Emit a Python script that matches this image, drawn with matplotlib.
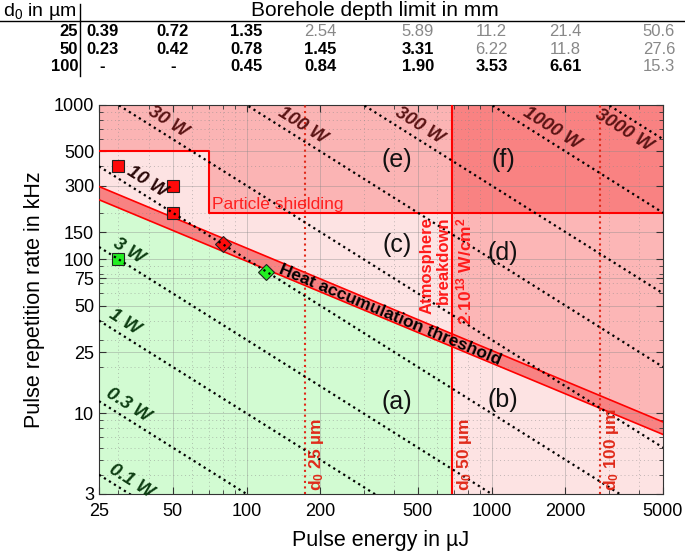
import numpy as np
import matplotlib
matplotlib.use("Agg")
import matplotlib.pyplot as plt
from matplotlib import transforms
from matplotlib.ticker import FixedLocator, FixedFormatter, LogLocator, NullFormatter

plt.rcParams['font.family'] = ['Liberation Sans', 'DejaVu Sans']
plt.rcParams['mathtext.default'] = 'regular'

# borehole depth table (mm) for d0 = 25, 50, 100 µm
table_energy = [25, 50, 100, 200, 500, 1000, 2000, 5000]
table_d0 = ['25', '50', '100']
depth_25 = ['0.39', '0.72', '1.35', '2.54', '5.89', '11.2', '21.4', '50.6']
depth_50 = ['0.23', '0.42', '0.78', '1.45', '3.31', '6.22', '11.8', '27.6']
depth_100 = ['-', '-', '0.45', '0.84', '1.90', '3.53', '6.61', '15.3']

# process limits
d0_energy = [173, 692, 2770]          # pulse energy where d0 = 25/50/100 µm
breakdown_energy = 692                # 2e13 W/cm^2
shield_E = [25, 70, 70, 5000]
shield_f = [500, 500, 200, 200]
thr_E = [25, 5000]
thr_upper = [296, 8.8]
thr_lower = [243, 7.3]

# iso-power lines in W
power_levels = [0.1, 0.3, 1, 3, 10, 30, 100, 300, 1000, 3000]
power_label_E = [32, 31, 30, 31, 37, 45, 159, 479, 1653, 3700]

# experiments
red_sq_E = [30, 50, 50]
red_sq_f = [400, 300, 200]
red_dia_E = [80]
red_dia_f = [125]
green_sq_E = [30]
green_sq_f = [100]
green_dia_E = [120]
green_dia_f = [83]

xticks = [25, 50, 100, 200, 500, 1000, 2000, 5000]
yticks = [3, 10, 25, 50, 75, 100, 150, 300, 500, 1000]

xmin, xmax, ymin, ymax = 25, 5000, 3, 1000


def on_line(E, ys):
    return 10 ** np.interp(np.log10(E), np.log10(thr_E), np.log10(ys))


fig = plt.figure(figsize=(6.85, 5.54), dpi=100)
ax = fig.add_axes([99 / 685, 1 - 494 / 554, 564 / 685, 389 / 554])
ax.set_xscale('log')
ax.set_yscale('log')
ax.set_xlim(xmin, xmax)
ax.set_ylim(ymin, ymax)
ax.set_facecolor('#fde3e3')

# regions
ax.fill([xmin, breakdown_energy, breakdown_energy, xmin],
        [on_line(xmin, thr_lower), on_line(breakdown_energy, thr_lower), ymin, ymin],
        color='#d2fbd2', lw=0, zorder=0.5)
ax.fill([breakdown_energy, xmax, xmax, breakdown_energy],
        [on_line(breakdown_energy, thr_upper), on_line(xmax, thr_upper), 200, 200],
        color='#fcb6b6', lw=0, zorder=0.5)
ax.fill(shield_E + [xmax, xmin], shield_f + [ymax, ymax],
        color='#fbb4b4', lw=0, zorder=0.5)
ax.fill([breakdown_energy, xmax, xmax, breakdown_energy], [200, 200, ymax, ymax],
        color='#f98282', lw=0, zorder=0.6)

# heat accumulation band
ax.fill([xmin, xmax, xmax, xmin],
        [thr_lower[0], thr_lower[1], thr_upper[1], thr_upper[0]],
        color='#f88282', lw=0, zorder=0.7)
ax.plot(thr_E, thr_upper, color='red', lw=1.2, zorder=3)
ax.plot(thr_E, thr_lower, color='red', lw=1.2, zorder=3)

# limits
ax.plot(shield_E, shield_f, color='red', lw=1.5, zorder=3)
ax.axvline(breakdown_energy, color='red', lw=1.5, zorder=3)
for e in [d0_energy[0], d0_energy[2]]:
    ax.axvline(e, color='#e02a1a', lw=1.5, ls=':', zorder=3)

# grid
ax.xaxis.set_major_locator(FixedLocator(xticks))
ax.xaxis.set_major_formatter(FixedFormatter([str(t) for t in xticks]))
ax.yaxis.set_major_locator(FixedLocator(yticks))
ax.yaxis.set_major_formatter(FixedFormatter([str(t) for t in yticks]))
ax.xaxis.set_minor_locator(LogLocator(base=10, subs=np.arange(1, 10)))
ax.yaxis.set_minor_locator(LogLocator(base=10, subs=np.arange(1, 10)))
ax.xaxis.set_minor_formatter(NullFormatter())
ax.yaxis.set_minor_formatter(NullFormatter())
ax.grid(which='major', color='#888888', lw=0.6, alpha=0.45)
ax.grid(which='minor', color='#888888', lw=0.7, ls=(0, (1, 3)), alpha=0.5)
ax.tick_params(which='both', direction='in', top=True, right=True,
               labelsize=13, color='#333333')
ax.tick_params(which='major', length=5)
ax.tick_params(which='minor', length=3)
ax.tick_params(axis='x', which='major', pad=6.5)
for s in ax.spines.values():
    s.set_color('#333333')

# angle of an E^-1 line and of the threshold in screen space
def screen_angle(p1, p2):
    a = ax.transData.transform(p1)
    b = ax.transData.transform(p2)
    return np.degrees(np.arctan2(b[1] - a[1], b[0] - a[0]))

pow_ang = screen_angle((100, 100), (1000, 10))
thr_ang = screen_angle((thr_E[0], thr_upper[0]), (thr_E[1], thr_upper[1]))

# iso-power lines
E_line = np.array([xmin, xmax])
for P, eL in zip(power_levels, power_label_E):
    ax.plot(E_line, P * 1000 / E_line, color='black', lw=1.6, ls=':', zorder=4)
    c = '#0d3d12' if P <= 3 else ('#2a0808' if P == 10 else '#5a1414')
    off = (-5, -8) if P == 3000 else (4.5, 7.5)
    ax.annotate('%g W' % P, (eL, P * 1000 / eL), xytext=off, textcoords='offset points',
                ha='center', va='center', rotation=pow_ang, rotation_mode='anchor',
                fontsize=13.5, fontweight='bold', fontstyle='italic', color=c, zorder=5)

# experiments
ax.plot(red_sq_E, red_sq_f, 's', color='#ff0a0a', mec='#222222', mew=0.8, ms=9, zorder=3.5)
ax.plot(red_dia_E, red_dia_f, 'D', color='#ff0a0a', mec='#222222', mew=0.8, ms=8, zorder=3.5)
ax.plot(green_sq_E, green_sq_f, 's', color='#22ee22', mec='#222222', mew=0.8, ms=9, zorder=3.5)
ax.plot(green_dia_E, green_dia_f, 'D', color='#22ee22', mec='#222222', mew=0.8, ms=8, zorder=3.5)

# annotations
ax.text(385, np.sqrt(on_line(385, thr_upper) * on_line(385, thr_lower)),
        'Heat accumulation threshold', rotation=thr_ang, rotation_mode='anchor',
        ha='center', va='center', fontsize=12.5, fontweight='bold', zorder=6)
ax.text(72, 225, 'Particle shielding', color='#ff2020', fontsize=12.5,
        ha='left', va='center', zorder=6)
ax.text(breakdown_energy * 0.985, 188, 'Atmosphere\nbreakdown', rotation=90,
        ha='right', va='top', multialignment='right', color='#ff1a1a',
        fontsize=12, fontweight='bold', linespacing=1.1, zorder=6)
ax.text(breakdown_energy * 1.02, 188, r'2$\cdot$10$^{13}$ W/cm$^{2}$', rotation=90,
        ha='left', va='top', color='#ff1a1a', fontsize=12.5, fontweight='bold', zorder=6)
for e, d in zip(d0_energy, table_d0):
    ax.text(e * 1.02, 3.15, r'd$_0$ ' + d + ' µm', rotation=90, ha='left', va='bottom',
            color='#e02a1a', fontsize=12.5, fontweight='bold', zorder=6)

for lab, E, f in [('(a)', 411, 11.8), ('(b)', 1114, 12.3), ('(c)', 411, 124),
                  ('(d)', 1114, 110), ('(e)', 411, 443), ('(f)', 1114, 443)]:
    ax.text(E, f, lab, fontsize=18, ha='center', va='center', color='#111111', zorder=6)

ax.set_xlabel('Pulse energy in µJ', fontsize=15.5, labelpad=7)
ax.set_ylabel('Pulse repetition rate in kHz', fontsize=15.5, labelpad=6)

# depth table on top
tr = transforms.blended_transform_factory(ax.transData, fig.transFigure)
fig.text(3 / 685, 1 - 11 / 554, r'd$_0$ in µm', fontsize=14, va='center', ha='left')
fig.text(375 / 685, 1 - 11 / 554, 'Borehole depth limit in mm', fontsize=15,
         va='center', ha='center')
fig.add_artist(plt.Line2D([0, 1], [1 - 21 / 554, 1 - 21 / 554], color='black', lw=1,
                          transform=fig.transFigure))
fig.add_artist(plt.Line2D([80 / 685, 80 / 685], [1 - 4 / 554, 1 - 76 / 554],
                          color='black', lw=1, transform=fig.transFigure))
row_y = [1 - 31 / 554, 1 - 49 / 554, 1 - 67 / 554]
for d, row, y, lim in zip(table_d0, [depth_25, depth_50, depth_100], row_y, d0_energy):
    fig.text(78 / 685, y, d, fontsize=12, fontweight='bold', ha='right', va='center')
    for i, (E, v) in enumerate(zip(table_energy, row)):
        bold = E < lim
        xx = E * 1.03 if i == 0 else (E / 1.04 if i == len(row) - 1 else E)
        fig.text(xx, y, v, transform=tr, fontsize=12, ha='center', va='center',
                 fontweight='bold' if bold else 'normal',
                 color='black' if bold else '#888888')

fig.savefig('out.png', dpi=100)
